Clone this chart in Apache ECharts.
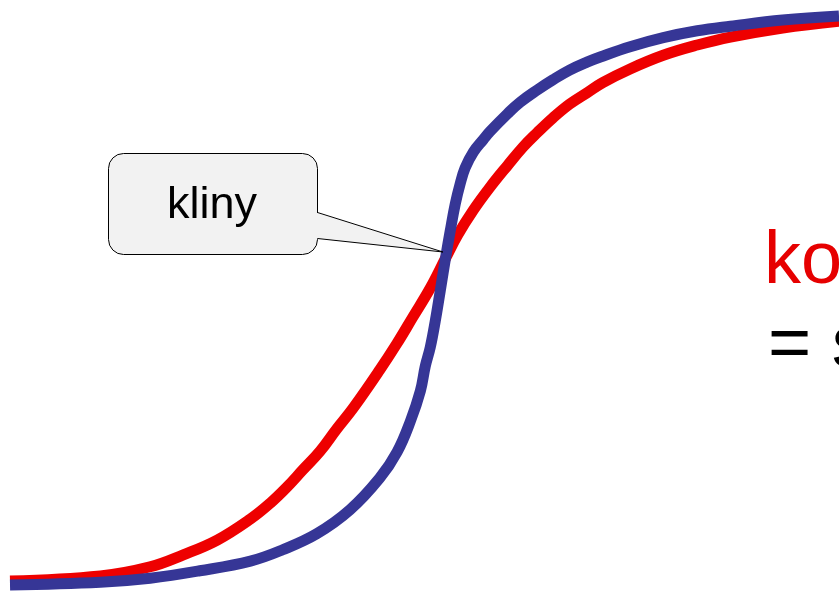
<!DOCTYPE html>
<html style="height: 100%">
   <head>
       <meta charset="utf-8">
       <title>kliny</title>
   </head>
   <body style="height: 100%; margin: 0; background: #fff">
       <div id="container" style="width: 839px; height: 591px"></div>
       <script src="https://cdn.jsdelivr.net/npm/echarts@6/dist/echarts.min.js"></script>
       <script type="text/javascript">
           // x: position across the plot (0-100), y: response (0-100)
           var redX = [0, 10.9, 16.9, 20.9, 25.0, 29.0, 31.4, 33.4, 35.3, 37.4, 39.4, 41.4, 44.6, 46.7, 48.6, 50.7, 52.6, 54.0, 55.9, 57.9, 60.0, 61.9, 63.6, 65.5, 67.5, 69.6, 71.5, 74.8, 78.8, 82.9, 86.9, 93.2, 100];
           var redY = [0.7, 1.6, 3.2, 5.3, 7.9, 11.6, 14.4, 17.2, 20.2, 23.5, 27.4, 31.1, 37.8, 42.5, 47.1, 52.2, 57.6, 61.5, 65.9, 69.9, 73.7, 77.0, 79.5, 82.1, 84.5, 86.5, 88.3, 90.7, 93.1, 94.9, 96.3, 97.9, 99.1];
           var blueX = [0, 10.9, 16.9, 22.9, 29.0, 32.9, 37.0, 41.0, 44.6, 46.7, 48.3, 49.5, 50.1, 50.7, 51.3, 51.9, 52.6, 53.1, 53.7, 54.3, 54.9, 55.9, 57.1, 57.9, 60.0, 61.5, 63.6, 65.5, 67.5, 69.6, 71.2, 74.8, 78.8, 82.9, 86.9, 93.2, 100];
           var blueY = [0, 0.5, 1.2, 2.5, 4.2, 6.2, 9.0, 13.2, 18.8, 23.4, 28.8, 34.1, 38.5, 41.8, 46.4, 51.7, 58.0, 62.2, 66.9, 70.5, 73.3, 76.1, 78.3, 79.7, 82.8, 84.8, 87.0, 88.8, 90.5, 91.9, 92.8, 94.6, 96.2, 97.4, 98.2, 99.3, 100];
           // crossing point the callout points at
           var crossPoint = [52.2, 58.5];
           var calloutText = 'kliny';
           var titleRed = 'ko';
           var titleBlack = '= s';

           function pairs(xs, ys) {
               var out = [];
               for (var i = 0; i < xs.length; i++) out.push([xs[i], ys[i]]);
               return out;
           }

           var myChart = echarts.init(document.getElementById('container'));
           var option = {
               animation: false,
               grid: { left: 10, right: 0, top: 16, bottom: 6 },
               xAxis: { type: 'value', min: 0, max: 100, show: false },
               yAxis: { type: 'value', min: 0, max: 100, show: false },
               series: [{
                   type: 'line',
                   data: pairs(redX, redY),
                   smooth: 0.4,
                   symbol: 'none',
                   clip: false,
                   lineStyle: { color: '#ee0000', width: 11, cap: 'butt' }
               }, {
                   type: 'line',
                   data: pairs(blueX, blueY),
                   smooth: 0.4,
                   symbol: 'none',
                   clip: false,
                   lineStyle: { color: '#363696', width: 11, cap: 'butt' }
               }]
           };
           myChart.setOption(option);

           var tip = myChart.convertToPixel({ gridIndex: 0 }, crossPoint);
           var tx = Math.round(tip[0]), ty = Math.round(tip[1]);
           var font = '"Liberation Sans", Arial, sans-serif';

           myChart.setOption({
               graphic: [{
                   type: 'rect',
                   z: 10,
                   shape: { x: 108.5, y: 153.5, width: 209, height: 101, r: 15 },
                   style: { fill: '#f2f2f2', stroke: '#000', lineWidth: 1 }
               }, {
                   type: 'polygon',
                   z: 11,
                   shape: { points: [[316, 212.5], [tx, ty], [316, 238.5]] },
                   style: { fill: '#f2f2f2' }
               }, {
                   type: 'polyline',
                   z: 12,
                   shape: { points: [[317.5, 212.5], [tx, ty], [317.5, 238.5]] },
                   style: { stroke: '#000', lineWidth: 1, fill: null }
               }, {
                   type: 'text',
                   z: 13,
                   x: 212, y: 206,
                   style: {
                       text: calloutText,
                       font: '45px ' + font,
                       fill: '#000',
                       align: 'center',
                       verticalAlign: 'middle'
                   }
               }, {
                   type: 'text',
                   z: 13,
                   x: 764, y: 263,
                   style: {
                       text: titleRed,
                       font: '74px ' + font,
                       fill: '#e60000',
                       align: 'left',
                       verticalAlign: 'middle'
                   }
               }, {
                   type: 'text',
                   z: 13,
                   x: 768, y: 347,
                   style: {
                       text: titleBlack,
                       font: '74px ' + font,
                       fill: '#000',
                       align: 'left',
                       verticalAlign: 'middle'
                   }
               }]
           });
       </script>
   </body>
</html>
